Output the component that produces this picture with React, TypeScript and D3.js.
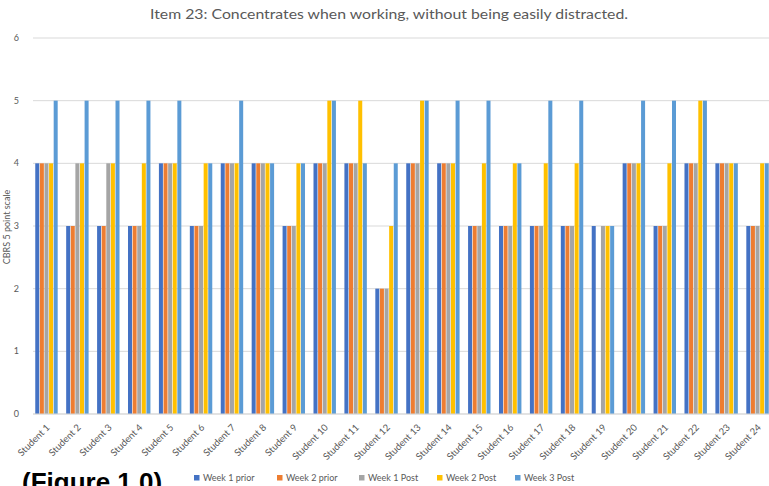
import React from "react";
import * as d3 from "d3";

const students = [
  "Student 1", "Student 2", "Student 3", "Student 4", "Student 5", "Student 6",
  "Student 7", "Student 8", "Student 9", "Student 10", "Student 11", "Student 12",
  "Student 13", "Student 14", "Student 15", "Student 16", "Student 17", "Student 18",
  "Student 19", "Student 20", "Student 21", "Student 22", "Student 23", "Student 24",
];

const seriesNames = ["Week 1 prior", "Week 2 prior", "Week 1 Post", "Week 2 Post", "Week 3 Post"];
const seriesColors = ["#4472C4", "#ED7D31", "#A5A5A5", "#FFC000", "#5B9BD5"];

const week1Prior = [4, 3, 3, 3, 4, 3, 4, 4, 3, 4, 4, 2, 4, 4, 3, 3, 3, 3, 3, 4, 3, 4, 4, 3];
const week2Prior = [4, 3, 3, 3, 4, 3, 4, 4, 3, 4, 4, 2, 4, 4, 3, 3, 3, 3, 0, 4, 3, 4, 4, 3];
const week1Post = [4, 4, 4, 3, 4, 3, 4, 4, 3, 4, 4, 2, 4, 4, 3, 3, 3, 3, 3, 4, 3, 4, 4, 3];
const week2Post = [4, 4, 4, 4, 4, 4, 4, 4, 4, 5, 5, 3, 5, 4, 4, 4, 4, 4, 3, 4, 4, 5, 4, 4];
const week3Post = [5, 5, 5, 5, 5, 4, 5, 4, 4, 5, 4, 4, 5, 5, 5, 4, 5, 5, 3, 5, 5, 5, 4, 4];

const seriesValues = [week1Prior, week2Prior, week1Post, week2Post, week3Post];
const yTicks = [0, 1, 2, 3, 4, 5, 6];

const W = 769;
const H = 486;
const font = "Lato, 'Open Sans', sans-serif";
const textGray = "#595959";
const gridGray = "#d9d9d9";

export default function App() {
  const x0 = d3
    .scaleBand<string>()
    .domain(students)
    .range([31, 773])
    .paddingInner(0.255)
    .paddingOuter(0.128);
  const x1 = d3
    .scaleBand<string>()
    .domain(seriesNames)
    .range([0, x0.bandwidth()]);
  const y = d3.scaleLinear().domain([0, 6]).range([414, 38]);

  const legendX = [194, 277, 359, 437, 515];

  return (
    <svg
      width={W}
      height={H}
      style={{ position: "absolute", left: 0, top: 0, background: "#fff" }}
      fontFamily={font}
    >
      <rect width={W} height={H} fill="#fff" />
      <text
        x={389}
        y={19}
        textAnchor="middle"
        fontSize={13.5}
        fill={textGray}
        textLength={478}
        lengthAdjust="spacingAndGlyphs"
      >
        Item 23: Concentrates when working, without being easily distracted.
      </text>

      {/* gridlines and y tick labels */}
      {yTicks.map((t) => (
        <g key={t}>
          <line x1={33} x2={769} y1={y(t)} y2={y(t)} stroke={gridGray} strokeWidth={1} />
          <text x={19} y={y(t) + 3} textAnchor="end" fontSize={9} fill={textGray}>
            {t}
          </text>
        </g>
      ))}

      <text
        transform={`translate(10,227) rotate(-90)`}
        textAnchor="middle"
        fontSize={9}
        fill={textGray}
      >
        CBRS 5 point scale
      </text>

      {/* bars */}
      {students.map((s, i) => (
        <g key={s} transform={`translate(${x0(s)},0)`}>
          {seriesNames.map((name, k) => {
            const v = seriesValues[k][i];
            return (
              <rect
                key={name}
                x={(x1(name) as number) + 0.3}
                y={y(v)}
                width={x1.bandwidth() - 0.6}
                height={y(0) - y(v)}
                fill={seriesColors[k]}
              />
            );
          })}
        </g>
      ))}

      <line x1={33} x2={769} y1={y(0)} y2={y(0)} stroke={gridGray} strokeWidth={1} />

      {/* category labels */}
      {students.map((s) => {
        const cx = (x0(s) as number) + x0.bandwidth() / 2;
        return (
          <text
            key={s}
            transform={`translate(${cx + 4},${y(0) + 14}) rotate(-45)`}
            textAnchor="end"
            fontSize={9.5}
            fill={textGray}
          >
            {s}
          </text>
        );
      })}

      {/* legend */}
      {seriesNames.map((name, k) => (
        <g key={name} transform={`translate(${legendX[k]},478)`}>
          <rect x={0} y={-3} width={5.5} height={5.5} fill={seriesColors[k]} />
          <text x={9} y={3} fontSize={9} fill={textGray}>
            {name}
          </text>
        </g>
      ))}

      <text
        x={22}
        y={491}
        fontFamily="'Liberation Sans', Arial, sans-serif"
        fontWeight="bold"
        fontSize={26}
        fill="#000"
      >
        (Figure 1.0)
      </text>
    </svg>
  );
}
